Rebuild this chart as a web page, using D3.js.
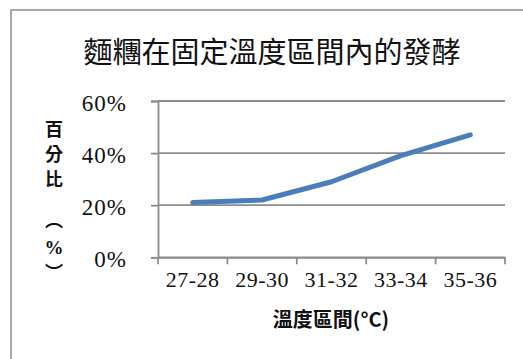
<!DOCTYPE html>
<html>
<head>
<meta charset="utf-8">
<script src="https://cdn.jsdelivr.net/npm/d3@7"></script>
<style>
  html, body { margin: 0; padding: 0; background: #fff; }
  svg { display: block; }
</style>
</head>
<body>
<svg id="chart" width="523" height="359"></svg>
<script>
// Fermentation percentage for each temperature band
const categories = ["27-28", "29-30", "31-32", "33-34", "35-36"];
const values = [0.21, 0.22, 0.29, 0.39, 0.47];
const yTicks = [0, 0.2, 0.4, 0.6];
const titleText = "麵糰在固定溫度區間內的發酵";
const xTitle = "溫度區間(°C)";
const yTitleChars = ["百", "分", "比", "︵", "%", "︶"];

const svg = d3.select("#chart");
const gridColor = "#8c8c8c";
const serif = "'Liberation Serif', 'DejaVu Serif', serif";
const cjk = "'Noto Sans CJK TC', 'Noto Sans CJK SC', sans-serif";

// Outer chart frame (left and top edges visible)
svg.append("rect")
  .attr("x", 11).attr("y", 10)
  .attr("width", 700).attr("height", 600)
  .attr("fill", "none")
  .attr("stroke", "#8a8a8a")
  .attr("stroke-width", 1.5);

const plot = { left: 158, right: 505, top: 101, bottom: 257.3 };

const x = d3.scaleBand().domain(categories).range([plot.left, plot.right]).padding(0);
const y = d3.scaleLinear().domain([0, 0.6]).range([plot.bottom, plot.top]);

// Horizontal gridlines
svg.append("g")
  .selectAll("line")
  .data(yTicks)
  .join("line")
  .attr("x1", plot.left).attr("x2", plot.right)
  .attr("y1", d => y(d)).attr("y2", d => y(d))
  .attr("stroke", gridColor)
  .attr("stroke-width", 1.8);

// Y axis
const yAxis = svg.append("g")
  .attr("transform", `translate(${plot.left},0)`)
  .call(d3.axisLeft(y).tickValues(yTicks).tickFormat(d3.format(".0%")).tickSize(7).tickPadding(24));
yAxis.select(".domain").attr("stroke", gridColor).attr("stroke-width", 1.8);
yAxis.selectAll(".tick line").attr("stroke", gridColor).attr("stroke-width", 1.8);
yAxis.selectAll(".tick text")
  .attr("font-family", serif)
  .attr("font-size", 23)
  .attr("letter-spacing", 1)
  .attr("fill", "#111")
  .attr("dy", "0.42em");

// X axis (ticks sit on the band boundaries)
const xAxis = svg.append("g")
  .attr("transform", `translate(0,${plot.bottom})`)
  .call(d3.axisBottom(x).tickSize(0).tickPadding(14));
xAxis.select(".domain").attr("stroke", gridColor).attr("stroke-width", 1.8);
xAxis.selectAll(".tick text")
  .attr("font-family", serif)
  .attr("font-size", 22)
  .attr("letter-spacing", 0.5)
  .attr("fill", "#111");

const edges = categories.map(c => x(c)).concat([x(categories[categories.length - 1]) + x.bandwidth()]);
svg.append("g")
  .selectAll("line")
  .data(edges)
  .join("line")
  .attr("x1", d => d).attr("x2", d => d)
  .attr("y1", plot.bottom).attr("y2", plot.bottom + 7)
  .attr("stroke", gridColor)
  .attr("stroke-width", 1.8);

// Data line
const line = d3.line()
  .x((d, i) => x(categories[i]) + x.bandwidth() / 2)
  .y(d => y(d));
svg.append("path")
  .datum(values)
  .attr("d", line)
  .attr("fill", "none")
  .attr("stroke", "#4a7ebb")
  .attr("stroke-width", 5)
  .attr("stroke-linecap", "round")
  .attr("stroke-linejoin", "round");

// Title
svg.append("text")
  .attr("x", 272).attr("y", 50)
  .attr("text-anchor", "middle")
  .attr("dominant-baseline", "central")
  .attr("font-family", cjk)
  .attr("font-size", 29)
  .attr("fill", "#111")
  .text(titleText);

// X axis title
svg.append("text")
  .attr("x", 331).attr("y", 318)
  .attr("text-anchor", "middle")
  .attr("dominant-baseline", "central")
  .attr("font-family", cjk)
  .attr("font-weight", "bold")
  .attr("font-size", 20)
  .attr("fill", "#111")
  .text(xTitle);

// Y axis title, stacked vertically (vertical-form brackets around %)
const yTitleY = [128, 153, 178, 219, 247, 271];
const yTitle = svg.append("g");
yTitleChars.forEach((ch, i) => {
  yTitle.append("text")
    .attr("x", 54).attr("y", yTitleY[i])
    .attr("text-anchor", "middle")
    .attr("dominant-baseline", "central")
    .attr("font-family", ch === "%" ? serif : cjk)
    .attr("font-weight", "bold")
    .attr("font-size", ch === "%" ? 19 : 18)
    .attr("fill", "#111")
    .text(ch);
});
</script>
</body>
</html>
